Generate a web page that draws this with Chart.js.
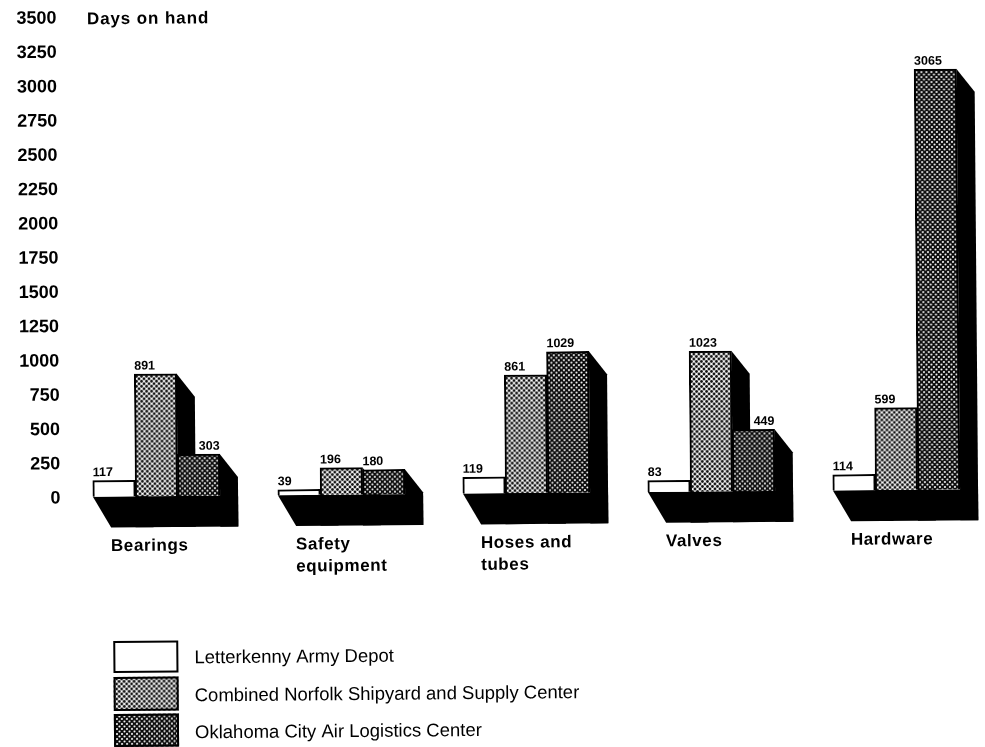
<!DOCTYPE html>
<html>
<head>
<meta charset="utf-8">
<title>Days on hand</title>
<script src="https://cdn.jsdelivr.net/npm/chart.js@4"></script>
<style>
    html, body { margin: 0; padding: 0; background: #fff; overflow: hidden; }
    canvas { display: block; }
</style>
</head>
<body>
<canvas id="myChart" width="985" height="747"></canvas>
<script>
const categories = [['Bearings'], ['Safety', 'equipment'], ['Hoses and', 'tubes'], ['Valves'], ['Hardware']];
const depots = ['Letterkenny Army Depot', 'Combined Norfolk Shipyard and Supply Center', 'Oklahoma City Air Logistics Center'];
const letterkenny = [117, 39, 119, 83, 114];
const norfolk = [891, 196, 861, 1023, 599];
const oklahoma = [303, 180, 1029, 449, 3065];
const yMax = 3500;
const yStep = 250;

const FONT = '"Liberation Sans", Arial, sans-serif';
const DEPTH_X = 18;
const DEPTH_Y = 23;
const FLOOR_Y = 31;

// small repeating dot fill for the shaded bars
function dotPattern(bg, fg, r) {
    const tile = document.createElement('canvas');
    tile.width = 5;
    tile.height = 5;
    const c = tile.getContext('2d');
    c.fillStyle = bg;
    c.fillRect(0, 0, 5, 5);
    c.fillStyle = fg;
    [[0, 0], [5, 0], [0, 5], [5, 5], [2.5, 2.5]].forEach(p => {
        c.beginPath();
        c.arc(p[0], p[1], r, 0, Math.PI * 2);
        c.fill();
    });
    return c.createPattern(tile, 'repeat');
}

const fills = ['#ffffff', dotPattern('#ffffff', '#111111', 1.45), dotPattern('#0a0a0a', '#ffffff', 1.05)];

// whole page sits a little crooked
const tiltPlugin = {
    id: 'tilt',
    beforeDraw(chart) {
        const c = chart.ctx;
        c.save();
        c.translate(0, 498);
        c.rotate(-0.0085);
        c.translate(0, -498);
    },
    afterDraw(chart) {
        chart.ctx.restore();
    }
};

// black floor and side walls behind the bars
const depthPlugin = {
    id: 'depth',
    beforeDatasetsDraw(chart) {
        const c = chart.ctx;
        const metas = chart.data.datasets.map((d, i) => chart.getDatasetMeta(i));
        c.save();
        c.fillStyle = '#000';
        categories.forEach((cat, j) => {
            const first = metas[0].data[j];
            const last = metas[metas.length - 1].data[j];
            const left = first.x - first.width / 2;
            const right = last.x + last.width / 2 + DEPTH_X;
            c.beginPath();
            c.moveTo(left, first.base);
            c.lineTo(left + DEPTH_X, first.base + FLOOR_Y);
            c.lineTo(right, first.base + FLOOR_Y);
            c.lineTo(right, first.base);
            c.closePath();
            c.fill();
            metas.forEach(meta => {
                const bar = meta.data[j];
                const edge = bar.x + bar.width / 2;
                c.beginPath();
                c.moveTo(edge, bar.y);
                c.lineTo(edge + DEPTH_X, bar.y + DEPTH_Y);
                c.lineTo(edge + DEPTH_X, bar.base + FLOOR_Y);
                c.lineTo(edge, bar.base + FLOOR_Y);
                c.closePath();
                c.fill();
            });
        });
        c.restore();
    }
};

// value labels, category names, unit caption and the key
const textPlugin = {
    id: 'texts',
    afterDatasetsDraw(chart) {
        const c = chart.ctx;
        const xScale = chart.scales.x;
        const yScale = chart.scales.y;
        c.save();
        c.fillStyle = '#000';
        c.textBaseline = 'alphabetic';

        c.font = 'bold 12.5px ' + FONT;
        chart.data.datasets.forEach((ds, i) => {
            const meta = chart.getDatasetMeta(i);
            ds.data.forEach((value, j) => {
                const bar = meta.data[j];
                const prev = i > 0 ? chart.getDatasetMeta(i - 1).data[j] : null;
                // a taller neighbour's wall covers the left part of the bar top
                if (prev && bar.y - prev.y > DEPTH_Y) {
                    c.textAlign = 'right';
                    c.fillText(String(value), bar.x + bar.width / 2, bar.y - 4.5);
                } else {
                    c.textAlign = 'left';
                    c.fillText(String(value), bar.x - bar.width / 2, bar.y - 4.5);
                }
            });
        });

        c.textAlign = 'left';
        c.font = 'bold 17px ' + FONT;
        c.letterSpacing = '0.6px';
        categories.forEach((lines, j) => {
            const x = xScale.getPixelForTick(j) - 46;
            lines.forEach((line, k) => {
                c.fillText(line, x, yScale.getPixelForValue(0) + 54.5 + k * 22);
            });
        });
        c.letterSpacing = '0.9px';
        c.fillText('Days on hand', 91, 25);
        c.letterSpacing = '0px';

        const keyTops = [642, 678, 715];
        const keyHeights = [32, 34, 33];
        const keyBaselines = [665, 703, 740];
        c.font = '18.5px ' + FONT;
        depots.forEach((name, i) => {
            const top = keyTops[i];
            c.fillStyle = fills[i];
            c.fillRect(112, top, 65, keyHeights[i]);
            c.strokeStyle = '#000';
            c.lineWidth = 2;
            c.strokeRect(113, top + 1, 63, keyHeights[i] - 2);
            c.fillStyle = '#000';
            c.fillText(name, 193, keyBaselines[i]);
        });
        c.restore();
    }
};

const ctx = document.getElementById('myChart');

new Chart(ctx, {
    type: 'bar',
    data: {
        labels: categories,
        datasets: depots.map((name, i) => ({
            label: name,
            data: [letterkenny, norfolk, oklahoma][i],
            backgroundColor: fills[i],
            borderColor: '#000',
            borderWidth: 2,
            barThickness: 42.4,
            clip: false,
        })),
    },
    options: {
        responsive: false,
        animation: false,
        layout: {
            padding: { top: 17.5, bottom: 249.5, right: 88.5, left: 0 },
        },
        scales: {
            x: {
                display: false,
                offset: false,
                grid: { display: false },
            },
            y: {
                min: 0,
                max: yMax,
                afterFit(scale) {
                    scale.width = 156.5;
                    // the wide tick padding must not eat into the plot height
                    scale.paddingTop = 0;
                    scale.paddingBottom = 0;
                },
                border: { display: false },
                grid: { display: false },
                ticks: {
                    stepSize: yStep,
                    autoSkip: false,
                    padding: 88,
                    labelOffset: 1.5,
                    color: '#000',
                    font: { family: FONT, size: 18, weight: 'bold' },
                    callback: value => String(value),
                },
            },
        },
        plugins: {
            legend: { display: false },
            tooltip: { enabled: false },
        },
    },
    plugins: [tiltPlugin, depthPlugin, textPlugin],
});
</script>
</body>
</html>
